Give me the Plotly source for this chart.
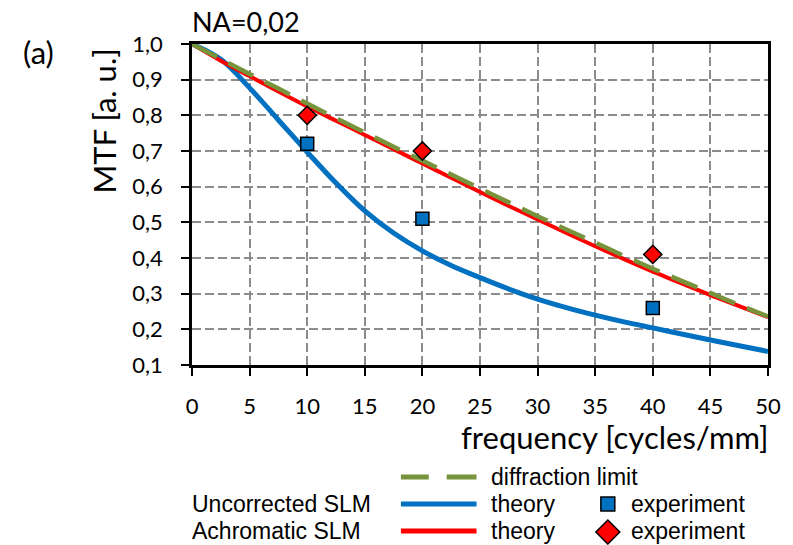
import plotly.graph_objects as go

# ---------------- data ----------------
freq = [0, 2.5, 5, 7.5, 10, 12.5, 15, 17.5, 20, 22.5, 25, 27.5, 30, 32.5, 35, 37.5, 40, 42.5, 45, 47.5, 50]
mtf_diffraction = [1.0, 0.958, 0.916, 0.875, 0.833, 0.792, 0.752, 0.712, 0.673, 0.634, 0.595, 0.556,
                   0.517, 0.480, 0.443, 0.406, 0.370, 0.336, 0.302, 0.268, 0.236]
mtf_uncorrected_theory = [1.0, 0.957, 0.877, 0.787, 0.697, 0.610, 0.532, 0.470, 0.420, 0.379, 0.345, 0.313,
                          0.285, 0.261, 0.240, 0.221, 0.204, 0.187, 0.170, 0.154, 0.138]
mtf_achromatic_theory = [1.0, 0.953, 0.910, 0.867, 0.825, 0.785, 0.745, 0.705, 0.665, 0.625, 0.585, 0.546,
                         0.508, 0.470, 0.433, 0.397, 0.362, 0.329, 0.296, 0.265, 0.234]
freq_exp = [10, 20, 40]
mtf_uncorrected_exp = [0.72, 0.51, 0.26]
mtf_achromatic_exp = [0.80, 0.70, 0.41]

x_ticks = [0, 5, 10, 15, 20, 25, 30, 35, 40, 45, 50]
y_ticks = [0.1, 0.2, 0.3, 0.4, 0.5, 0.6, 0.7, 0.8, 0.9, 1.0]
y_ticktext = [f"{v:.1f}".replace(".", ",") for v in y_ticks]

BLUE = "#0070C0"
RED = "#FF0000"
GREEN = "#77933C"
GRID = "#8C8C8C"
FONT = "Lato"
LFONT = "Liberation Sans"

W, H = 793, 545
ML, MR, MT, MB = 192, 22, 44, 180
PW, PH = W - ML - MR, H - MT - MB


def px(xp):
    return (xp - ML) / PW


def py(yp):
    return (H - MB - yp) / PH


fig = go.Figure()
fig.add_trace(go.Scatter(x=freq, y=mtf_uncorrected_theory, mode="lines",
                         line=dict(color=BLUE, width=5, shape="spline"), showlegend=False))
fig.add_trace(go.Scatter(x=freq, y=mtf_achromatic_theory, mode="lines",
                         line=dict(color=RED, width=4, shape="spline"), showlegend=False))
fig.add_trace(go.Scatter(x=freq, y=mtf_diffraction, mode="lines",
                         line=dict(color=GREEN, width=4.5, dash="28px,13px", shape="spline"), showlegend=False))
fig.add_trace(go.Scatter(x=freq_exp, y=mtf_uncorrected_exp, mode="markers",
                         marker=dict(symbol="square", size=13, color=BLUE, line=dict(color="black", width=1.5)),
                         showlegend=False))
fig.add_trace(go.Scatter(x=freq_exp, y=mtf_achromatic_exp, mode="markers",
                         marker=dict(symbol="diamond", size=14, color=RED, line=dict(color="black", width=1.5)),
                         showlegend=False))

axis_common = dict(
    showline=True, linecolor="black", linewidth=2.5, mirror=True,
    ticks="outside", ticklen=8, tickwidth=2, tickcolor="black",
    showgrid=True, gridcolor=GRID, gridwidth=2, griddash="9px,4px",
    zeroline=False, tickfont=dict(family=FONT, size=22, color="black"),
)
fig.update_xaxes(range=[0, 50], tickvals=x_ticks, ticktext=[str(v) for v in x_ticks],
                 ticklabelstandoff=12, **axis_common)
fig.update_yaxes(range=[0.1, 1.0], tickvals=y_ticks, ticktext=y_ticktext,
                 ticklabelstandoff=14, **axis_common)

annotations = [
    dict(text="NA=0,02", x=px(190), y=py(22), xanchor="left", yanchor="middle",
         font=dict(family=FONT, size=27, color="black")),
    dict(text="(a)", x=px(38), y=py(52), xanchor="center", yanchor="middle",
         font=dict(family=FONT, size=31, color="black")),
    dict(text="MTF [a. u.]", x=px(104), y=py(121), xanchor="center", yanchor="middle", textangle=-90,
         font=dict(family=FONT, size=31, color="black")),
    dict(text="frequency [cycles/mm]", x=px(774), y=py(437), xanchor="right", yanchor="middle",
         font=dict(family=FONT, size=31, color="black")),
    dict(text="diffraction limit", x=px(491), y=py(477), xanchor="left", yanchor="middle",
         font=dict(family=LFONT, size=23, color="black")),
    dict(text="Uncorrected SLM", x=px(190), y=py(504), xanchor="left", yanchor="middle",
         font=dict(family=LFONT, size=23, color="black")),
    dict(text="theory", x=px(491), y=py(504), xanchor="left", yanchor="middle",
         font=dict(family=LFONT, size=23, color="black")),
    dict(text="experiment", x=px(631), y=py(504), xanchor="left", yanchor="middle",
         font=dict(family=LFONT, size=23, color="black")),
    dict(text="Achromatic SLM", x=px(190), y=py(531), xanchor="left", yanchor="middle",
         font=dict(family=LFONT, size=23, color="black")),
    dict(text="theory", x=px(491), y=py(531), xanchor="left", yanchor="middle",
         font=dict(family=LFONT, size=23, color="black")),
    dict(text="experiment", x=px(631), y=py(531), xanchor="left", yanchor="middle",
         font=dict(family=LFONT, size=23, color="black")),
]
for a in annotations:
    a.update(xref="paper", yref="paper", showarrow=False)

shapes = [
    dict(type="line", x0=px(402), x1=px(430), y0=py(477), y1=py(477), line=dict(color=GREEN, width=5)),
    dict(type="line", x0=px(448), x1=px(478), y0=py(477), y1=py(477), line=dict(color=GREEN, width=5)),
    dict(type="line", x0=px(402), x1=px(478), y0=py(504), y1=py(504), line=dict(color=BLUE, width=5)),
    dict(type="line", x0=px(402), x1=px(478), y0=py(531), y1=py(531), line=dict(color=RED, width=5)),
    dict(type="rect", x0=px(603), x1=px(617), y0=py(511), y1=py(497),
         fillcolor=BLUE, line=dict(color="black", width=1.5)),
    dict(type="path",
         path=f"M {px(598)},{py(532)} L {px(610)},{py(520)} L {px(622)},{py(532)} L {px(610)},{py(544)} Z",
         fillcolor=RED, line=dict(color="black", width=1.5)),
]
for s in shapes:
    s.update(xref="paper", yref="paper")

fig.update_layout(
    width=W, height=H,
    margin=dict(l=ML, r=MR, t=MT, b=MB, pad=0),
    paper_bgcolor="white", plot_bgcolor="white",
    showlegend=False,
    annotations=annotations, shapes=shapes,
)

fig.write_html("out.html")
